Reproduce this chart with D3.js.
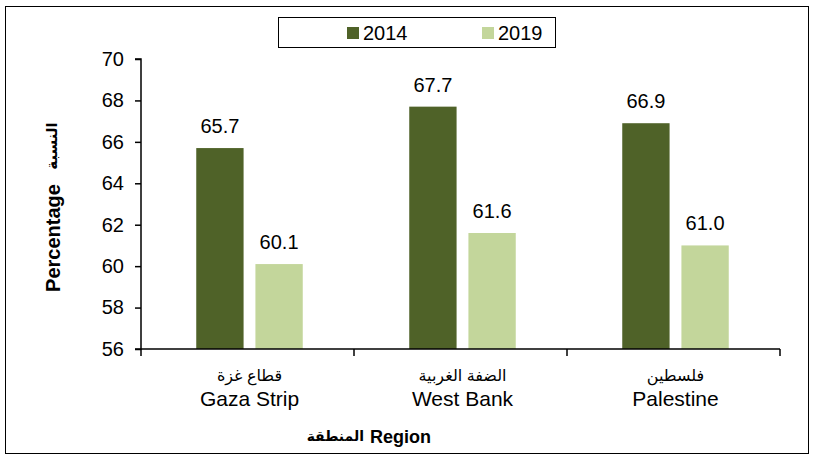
<!DOCTYPE html>
<html>
<head>
<meta charset="utf-8">
<script src="https://cdn.jsdelivr.net/npm/d3@7"></script>
<style>
  body { margin: 0; background: #fff; }
  svg text { font-family: "Liberation Sans", Arial, "DejaVu Sans", sans-serif; }
</style>
</head>
<body>
<div id="chart"></div>
<script>
// Data
const regionsAr = ["قطاع غزة", "الضفة الغربية", "فلسطين"];
const regionsEn = ["Gaza Strip", "West Bank", "Palestine"];
const years = ["2014", "2019"];
const values2014 = [65.7, 67.7, 66.9];
const values2019 = [60.1, 61.6, 61.0];
const yTicks = [56, 58, 60, 62, 64, 66, 68, 70];
const colors = ["#4f6228", "#c3d69b"];

const width = 815, height = 460;
const margin = {top: 59, right: 35, bottom: 111, left: 141};

const svg = d3.select("#chart").append("svg")
    .attr("width", width)
    .attr("height", height);

// outer frame
svg.append("rect")
    .attr("x", 5.5).attr("y", 6.5)
    .attr("width", 803).attr("height", 447)
    .attr("fill", "none")
    .attr("stroke", "#000")
    .attr("stroke-width", 1);

const data = regionsEn.map((r, i) => ({region: r, ar: regionsAr[i], values: [values2014[i], values2019[i]]}));

const x0 = d3.scaleBand()
    .domain(regionsEn)
    .range([margin.left, width - margin.right])
    .paddingInner(0)
    .paddingOuter(0);

const x1 = d3.scaleBand()
    .domain(years)
    .range([0, x0.bandwidth()])
    .paddingInner(0.2)
    .paddingOuter(0.9);

const y = d3.scaleLinear()
    .domain([56, 70])
    .range([height - margin.bottom, margin.top]);

// bars
const groups = svg.selectAll("g.group")
    .data(data)
    .join("g")
    .attr("class", "group")
    .attr("transform", d => `translate(${x0(d.region) + 2},0)`);

groups.selectAll("rect")
    .data(d => d.values.map((v, i) => ({year: years[i], value: v, i: i})))
    .join("rect")
    .attr("x", d => x1(d.year))
    .attr("y", d => y(d.value))
    .attr("width", x1.bandwidth())
    .attr("height", d => y(56) - y(d.value))
    .attr("fill", d => colors[d.i]);

// value labels
groups.selectAll("text.val")
    .data(d => d.values.map((v, i) => ({year: years[i], value: v})))
    .join("text")
    .attr("class", "val")
    .attr("x", d => x1(d.year) + x1.bandwidth() / 2)
    .attr("y", d => y(d.value) - 15)
    .attr("text-anchor", "middle")
    .style("font-size", "20px")
    .text(d => d.value.toFixed(1));

// y axis
const yAxis = svg.append("g")
    .attr("transform", `translate(${margin.left},0)`)
    .call(d3.axisLeft(y).tickValues(yTicks).tickSize(6).tickPadding(11).tickFormat(d3.format("d")));
yAxis.selectAll("path, line").attr("stroke", "#000").attr("stroke-width", 1.5);
yAxis.select(".domain").attr("d", `M-6,${y(56)}H0V${y(70)}H-6`);
yAxis.selectAll("text").style("font-size", "20px").attr("fill", "#000");

// x axis: ticks on band boundaries
const xAxisG = svg.append("g")
    .attr("transform", `translate(0,${y(56)})`);
xAxisG.append("line")
    .attr("x1", x0.range()[0]).attr("x2", x0.range()[1])
    .attr("stroke", "#000").attr("stroke-width", 1.5);
const bounds = regionsEn.map(r => x0(r)).concat([x0.range()[1]]);
xAxisG.selectAll("line.tick")
    .data(bounds)
    .join("line")
    .attr("class", "tick")
    .attr("x1", d => d).attr("x2", d => d)
    .attr("y1", 0).attr("y2", 7)
    .attr("stroke", "#000").attr("stroke-width", 1.5);

// category labels (Arabic above, English below)
const catG = svg.selectAll("g.cat")
    .data(data)
    .join("g")
    .attr("class", "cat")
    .attr("transform", d => `translate(${x0(d.region) + x0.bandwidth() / 2 + 2},0)`);
catG.append("text")
    .attr("y", 381)
    .attr("text-anchor", "middle")
    .style("font-size", "16px")
    .text(d => d.ar);
catG.append("text")
    .attr("y", 406)
    .attr("text-anchor", "middle")
    .style("font-size", "21px")
    .text(d => d.region);

// axis titles
svg.append("text")
    .attr("x", 431)
    .attr("y", 443)
    .attr("text-anchor", "end")
    .style("font-size", "18px")
    .style("font-weight", "bold")
    .text("Region");
svg.append("text")
    .attr("x", 364)
    .attr("y", 441)
    .attr("text-anchor", "end")
    .style("font-size", "14px")
    .style("font-weight", "bold")
    .text("المنطقة");

svg.append("text")
    .attr("transform", "translate(60,238) rotate(-90)")
    .attr("text-anchor", "middle")
    .style("font-size", "20px")
    .style("font-weight", "bold")
    .text("Percentage");
svg.append("text")
    .attr("transform", "translate(57,146) rotate(-90)")
    .attr("text-anchor", "middle")
    .style("font-size", "15px")
    .style("font-weight", "bold")
    .text("النسبة");

// legend
const legend = svg.append("g");
legend.append("rect")
    .attr("x", 278.5).attr("y", 17.5)
    .attr("width", 277).attr("height", 30)
    .attr("fill", "#fff")
    .attr("stroke", "#000")
    .attr("stroke-width", 1);
const legendX = [347, 482];
const items = legend.selectAll("g.item")
    .data(years)
    .join("g")
    .attr("class", "item")
    .attr("transform", (d, i) => `translate(${legendX[i]},27)`);
items.append("rect")
    .attr("width", 12).attr("height", 12)
    .attr("fill", (d, i) => colors[i]);
items.append("text")
    .attr("x", 16)
    .attr("y", 13)
    .style("font-size", "20px")
    .text(d => d);
</script>
</body>
</html>
